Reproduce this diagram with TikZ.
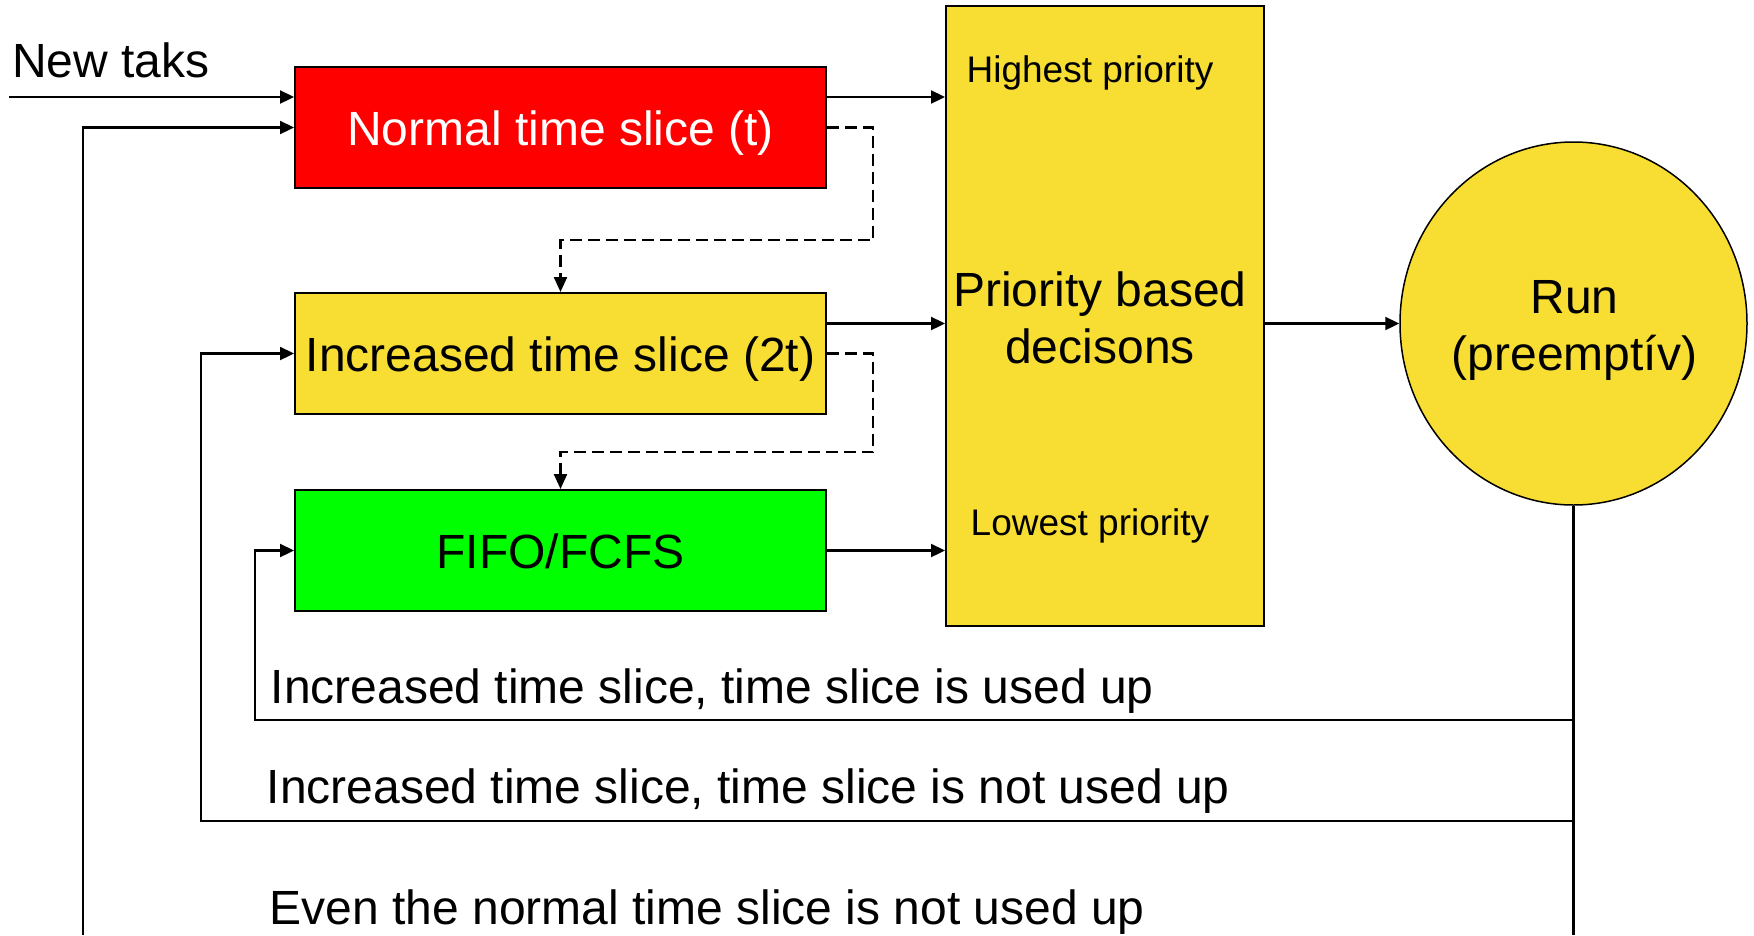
\documentclass[tikz,border=0pt]{standalone}
\usepackage{fontspec}
\setmainfont{Liberation Sans}
\usetikzlibrary{arrows.meta,shapes.geometric,calc}
\definecolor{boxyellow}{RGB}{248,222,51}
\definecolor{boxred}{RGB}{255,0,0}
\definecolor{boxgreen}{RGB}{0,255,0}
\begin{document}
\begin{tikzpicture}[x=1pt,y=-1pt,
  big/.style={font=\fontsize{48}{57}\selectfont},
  small/.style={font=\fontsize{37}{44}\selectfont},
  queue/.style={draw=black,line width=2pt,minimum width=531pt,minimum height=121pt,inner sep=0pt,text height=35pt,text depth=0pt,big},
  conn/.style={line width=2.3pt,-{Triangle[length=14pt,width=13pt]}},
  plain/.style={line width=2.3pt},
  dsh/.style={line width=2.3pt,dash pattern=on 12pt off 6pt,-{Triangle[length=15pt,width=13pt]}},
  lbl/.style={inner sep=0pt,anchor=base west,big}]
\useasboundingbox (0,0) rectangle (1754,935);
% boxes
\node[queue,fill=boxred,text=white] (red) at (560.5,127.5) {Normal time slice (t)};
\node[queue,fill=boxyellow] (inc) at (560.5,353.5) {Increased time slice (2t)};
\node[queue,fill=boxgreen] (fifo) at (560.5,550.5) {FIFO/FCFS};
\node[draw=black,line width=2pt,fill=boxyellow,minimum width=318pt,minimum height=620pt,inner sep=0pt] (prio) at (1105,316) {};
\node[big,align=center,inner sep=0pt] (priotext) at (1100,318) {Priority based\\decisons};
\node[small,inner sep=0pt,anchor=base] (high) at (1090,82) {Highest priority};
\node[small,inner sep=0pt,anchor=base] (low) at (1090,535) {Lowest priority};
\node[ellipse,draw=black,line width=1.5pt,fill=boxyellow,minimum width=347pt,minimum height=363pt,inner sep=0pt] (run) at (1573.5,323.5) {};
\node[big,align=center,inner sep=0pt] (runtext) at (1574.5,330) {Run\\(preemptív)};
% new task
\node[lbl] (newtask) at (12,77) {New taks};
\coordinate (ntstart) at (9,97);
\draw[conn] (ntstart) -- (ntstart -| red.west);
% queue -> priority
\draw[conn] (ntstart -| red.east) -- (ntstart -| prio.west);
\draw[conn] (inc.east |- run.center) -- (prio.west |- run.center);
\draw[conn] (fifo.east) -- (fifo.east -| prio.west);
\draw[conn] (prio.east |- run.center) -- (run.west);
% dashed demotions
\coordinate (d1) at (873,240);
\draw[dsh] (red.east) -| (d1) -| (inc.north);
\coordinate (d2) at (873,452);
\draw[dsh] (inc.east) -| (d2) -| (fifo.north);
% feedback loops
\coordinate (runbot) at (1573.5,935);
\draw[plain] (run.south) -- (runbot);
\coordinate (l1) at (255,720);
\draw[conn] (run.south |- l1) -- (l1) |- (fifo.west);
\coordinate (l2) at (201,821);
\draw[conn] (run.south |- l2) -- (l2) |- (inc.west);
\coordinate (l3) at (83,935);
\draw[conn] (l3) |- (red.west);
% labels
\node[lbl] (lab1) at (270.5,703) {Increased time slice, time slice is used up};
\node[lbl] (lab2) at (266.5,803) {Increased time slice, time slice is not used up};
\node[lbl] (lab3) at (269.5,924) {Even the normal time slice is not used up};
\end{tikzpicture}
\end{document}
